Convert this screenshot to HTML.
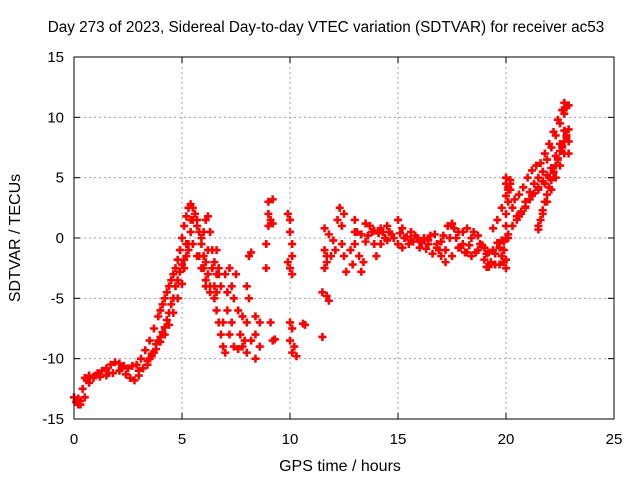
<!DOCTYPE html>
<html><head><meta charset="utf-8">
<style>
html,body{margin:0;padding:0;background:#fff;}
svg{display:block;font-family:"Liberation Sans",sans-serif;}
</style></head>
<body>
<svg id="chart" width="640" height="480" viewBox="0 0 640 480">
  <text x="326" y="32" text-anchor="middle" font-size="15.3" fill="#000">Day 273 of 2023, Sidereal Day-to-day VTEC variation (SDTVAR) for receiver ac53</text>
  <text transform="translate(20,238) rotate(-90)" text-anchor="middle" font-size="16" fill="#000">SDTVAR / TECUs</text>
  <text x="340" y="471" text-anchor="middle" font-size="16" fill="#000">GPS time / hours</text>
  <g id="grid"></g>
  <g id="ticks"></g>
  <g id="points"></g>
  <rect x="74" y="57" width="540" height="362" fill="none" stroke="#000" stroke-width="1"/>
</svg>
<script>
const xTicks = [0,5,10,15,20,25];
const yTicks = [-15,-10,-5,0,5,10,15];
const hours = [
0.0,0.1,0.2,0.3,0.4,0.5,0.7,0.9,1.1,1.3,1.5,1.7,1.9,2.1,2.3,2.5,2.7,2.9,3.1,3.3,3.5,3.7,3.9,4.1,4.3,4.5,4.7,4.9,5.0,5.1,5.2,5.3,5.4,5.5,5.6,5.7,5.8,5.9,6.0,6.1,6.2,6.3,6.4,6.5,6.6,6.7,
0.3,0.5,0.7,0.9,1.2,1.5,1.8,2.1,2.4,2.6,2.8,3.0,3.2,3.4,3.6,3.8,4.0,4.2,4.4,4.6,4.8,5.0,5.1,5.2,5.3,5.4,5.5,5.6,5.7,5.8,5.9,6.0,6.1,6.2,6.3,
3.5,3.7,3.9,4.1,4.3,4.5,4.7,4.9,5.1,5.3,5.5,5.7,5.9,6.1,6.3,6.5,6.7,
6.5,6.6,6.7,6.8,6.9,7.0,6.8,7.0,7.1,7.2,7.3,7.4,7.5,7.2,7.6,7.7,7.8,7.9,7.4,7.6,6.9,7.3,8.0,8.1,8.0,8.2,8.0,8.1,8.2,7.1,6.6,8.4,8.4,8.6,8.4,8.6,7.8,
9.0,9.0,9.1,9.0,9.2,9.2,8.9,8.9,9.1,9.2,9.3,
9.9,10.0,10.0,10.1,10.1,9.9,10.0,10.1,10.0,10.1,10.0,10.2,10.1,10.3,10.6,10.7,11.5,
11.5,11.7,11.8,11.6,11.7,11.6,11.7,11.9,11.6,11.8,12.0,12.1,
12.2,12.3,12.4,12.5,12.4,12.5,12.6,12.8,12.9,13.0,13.1,13.0,13.2,13.3,13.4,13.5,13.5,13.7,13.8,13.9,14.0,14.2,14.3,14.5,14.6,14.8,15.0,15.0,15.2,15.3,15.5,15.6,15.8,16.0,16.2,16.5,16.8,17.0,17.2,17.4,17.6,17.8,18.0,18.2,18.4,18.6,18.8,19.0,19.2,19.4,19.6,19.8,
14.2,14.5,15.2,15.6,16.0,16.4,16.8,17.2,17.5,17.8,18.0,18.2,18.4,18.7,19.0,19.2,19.5,19.8,20.0,
19.4,19.6,19.8,20.0,20.1,20.2,20.3,20.5,20.7,20.9,21.1,21.3,21.5,21.7,21.9,22.1,22.3,22.5,22.7,22.8,22.9,
19.7,19.9,20.1,20.3,20.6,20.9,21.2,21.5,21.8,22.0,22.2,22.4,22.6,22.8,22.9,
21.5,21.7,21.9,22.1,22.3,22.5,22.7,22.9,22.9,20.0,20.2,20.0,
19.1,19.3,19.5,19.7,19.9,20.1,20.3,20.5,20.7,20.9,21.1,21.3,21.5,21.7,21.9,22.1,22.3,22.5,22.7,
20.0,20.2,20.4,20.6,20.8,21.0,21.2,21.4,21.6,21.8,22.0,22.2,22.4,22.6,22.7,
21.5,21.6,21.7,21.8,21.9,22.0,22.1,22.2,22.3,22.4,22.5,22.6,22.7,22.8,
19.9,19.9,20.0,20.0,20.0,20.1,20.1,
13.0,13.3,13.6,13.9,14.1,14.4,14.7,15.1,15.4,15.7,15.9,16.1,16.3,16.6,16.9,17.1,17.3,17.5,17.7,17.9,18.1,18.3,18.5,18.7,18.9,19.1,16.4,16.7,17.0,
3.4,3.6,3.8,4.0,4.2,4.4,4.6,4.8,5.0,5.2,5.4,4.0,4.2,4.4,4.6,4.8,3.0,2.2,1.6,1.0,0.6,0.2,6.0,6.2,6.4,6.6,5.8,6.1
];
const values = [
-13.2,-13.6,-13.8,-13.5,-12.5,-11.6,-11.4,-11.5,-11.2,-11.0,-10.8,-10.5,-10.3,-10.4,-10.6,-10.8,-10.6,-10.5,-10.0,-9.3,-8.5,-7.5,-6.5,-5.5,-4.5,-3.5,-2.5,-1.0,0,1.0,1.8,2.5,2.8,2.5,2.0,1.0,0.5,0,0.5,1.5,1.8,0.5,-1.0,-2.0,-1.0,-2.5,
-13.8,-13.2,-12.0,-11.6,-11.5,-11.4,-11.2,-11.0,-11.3,-11.6,-11.8,-11.4,-10.8,-10.2,-9.6,-9.2,-8.6,-8.0,-7.2,-6.2,-5.0,-3.8,-2.5,-1.5,-0.5,0.5,1.5,2.0,1.5,0.5,-0.5,-1.5,-2.0,-3.0,-4.0,
-10,-9.5,-8.5,-7.8,-6.8,-5.5,-4.0,-2.8,-1.8,-1.0,-0.5,-1.5,-2.5,-3.5,-4.5,-4.0,-3.0,
-5,-6,-7,-8,-9,-9.5,-4,-3,-6,-8,-7,-5,-3,-2.5,-6,-8,-9,-8.5,-9,-9.2,-7,-4,-4,-5,-7,-8.5,-9.5,-1.5,-1.2,-4.5,-3,-6.5,-8,-9,-10,-7,-6.5,
3,2,1.5,1,3.2,1.2,-0.5,-2.5,-7,-8.5,-8.4,
2,1.5,0.5,-0.5,-1.5,-2,-2.5,-3,-7,-7.5,-8.5,-9,-9.5,-9.8,-7.1,-7.2,-8.2,
-4.5,-4.8,-5.2,-1,-1.5,-2.5,-2.0,-1.5,0.8,0.3,-0.2,-1.0,
1.5,2.5,1.0,2.0,-0.5,-1.5,-2.8,-1.0,-2.2,1.5,0.5,-0.5,-1.5,-2.8,-2.0,-0.3,1.2,1.0,0.5,-0.5,-1.5,-0.5,0.5,1.0,0.5,0.0,1.5,-0.5,0.8,0,-0.5,0.5,0.2,-0.3,0,0.2,-0.5,-1.5,-1.0,0.0,0.8,0.5,-0.5,-1.2,-1.5,-1.2,-0.5,-0.8,-1.2,-1.0,-0.4,-0.2,
0.8,-0.2,-0.8,-0.2,-0.8,-0.5,-0.8,-2.0,-1.5,-0.8,0.5,0.8,0,-1.0,-1.8,-2.4,-2.2,-1.5,-1.8,
0.8,1.5,2.5,3.5,4.2,4.8,2.5,1.8,2.2,3.0,3.8,4.5,5.0,5.5,6.5,7.5,8.5,9.5,10.3,10.8,11.0,
-2.2,-1.0,0,1.0,1.8,2.5,3.5,4.0,4.5,5.0,5.5,6.5,7.5,8.5,9.0,
1.0,2.0,3.0,4.0,5.0,6.0,7.0,8.0,7.0,5.0,4.5,-2.5,
-2.4,-2.0,-1.3,-0.8,-0.3,0.3,1.0,1.5,2.0,2.6,3.2,3.7,4.2,4.7,5.2,5.8,6.8,7.8,8.9,
4.5,4.0,3.2,3.6,4.2,5.0,5.6,6.0,6.2,7.0,7.8,8.8,9.8,10.6,11.2,
0.7,1.5,2.3,3.0,3.6,4.2,4.8,5.4,6.0,6.6,7.2,7.6,8.0,8.3,
-2.0,-1.0,0,1,2,3,4,
0.5,0.3,0.2,0.6,0.4,0.0,0.3,0.4,0.1,-0.3,0.0,-0.4,-0.9,-1.3,-1.0,0.2,1.0,1.2,0.0,-0.8,-1.2,-0.6,0.5,0.2,-0.6,-1.3,-0.2,0.3,-0.3,
-10.5,-9.8,-8.8,-8.2,-7.4,-6.2,-5.0,-3.5,-2.2,-0.5,1.5,-6.0,-5.0,-4.0,-3.0,-1.8,-11.0,-10.8,-11.2,-11.4,-11.8,-13.3,-2.5,-1.0,-2.5,-4.5,-1.5,-4.0
];
const X0=74, X1=614, Y0=419, Y1=57;
function xs(h){return X0+(h-0)/(25-0)*(X1-X0);}
function ys(v){return Y0-(v+15)/30*(Y0-Y1);}
const NS="http://www.w3.org/2000/svg";
const grid=document.getElementById('grid'), ticks=document.getElementById('ticks'), pts=document.getElementById('points');
function mk(tag,attrs,parent){const e=document.createElementNS(NS,tag);for(const k in attrs)e.setAttribute(k,attrs[k]);parent.appendChild(e);return e;}
xTicks.forEach(t=>{
  const x=xs(t);
  if(t>0&&t<25){const g=mk('line',{x1:x,x2:x,y1:Y1,y2:Y0,stroke:'#a0a0a0','stroke-dasharray':'2,3'},grid);
  
  }
  mk('line',{x1:x,x2:x,y1:Y0,y2:Y0-6,stroke:'#000'},ticks);
  mk('line',{x1:x,x2:x,y1:Y1,y2:Y1+6,stroke:'#000'},ticks);
  const l=mk('text',{x:x,y:Y0+25,'text-anchor':'middle','font-size':'15'},ticks);
  l.textContent=t;
  
  
});
yTicks.forEach(t=>{
  const y=ys(t);
  if(t>-15&&t<15){const g=mk('line',{x1:X0,x2:X1,y1:y,y2:y,stroke:'#a0a0a0','stroke-dasharray':'2,3'},grid);
  
  }
  mk('line',{x1:X0,x2:X0+6,y1:y,y2:y,stroke:'#000'},ticks);
  mk('line',{x1:X1,x2:X1-6,y1:y,y2:y,stroke:'#000'},ticks);
  const l=mk('text',{x:X0-10,y:y+5,'text-anchor':'end','font-size':'15'},ticks);
  l.textContent=t;
  
  
});
let d='';
for(let i=0;i<hours.length;i++){
  const x=xs(hours[i]), y=ys(values[i]);
  d+=`M${x-4},${y}h8M${x},${y-4}v8`;
}
const p=mk('path',{d:d,stroke:'#ff0000','stroke-width':'2.6',fill:'none'},pts);


</script>
</body></html>
